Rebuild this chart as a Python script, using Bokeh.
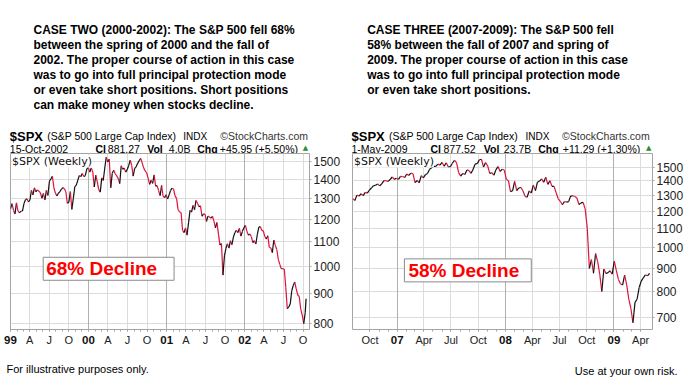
import pandas as pd
from bokeh.plotting import figure
from bokeh.models import Range1d, FixedTicker, Label, Grid, PrintfTickFormatter, DatetimeAxis
from bokeh.layouts import column, row
from bokeh.core.properties import value
from bokeh.embed import file_html
from bokeh.resources import INLINE

FONT = "Liberation Sans"
RED = "#dc143c"
BLACK = "#111111"

# ---------------- data: S&P 500 weekly closes ----------------
# Case two: weekly (Fridays) from 1999-01-01, last point 15-Oct-2002
spx_1999 = [1250, 1275, 1243, 1225, 1279, 1239, 1230, 1239, 1238, 1275, 1294, 1299, 1283,
            1293, 1343, 1319, 1356, 1335, 1345, 1338, 1330, 1302, 1327, 1294, 1342, 1316,
            1391, 1403, 1418, 1356, 1328, 1313, 1327, 1336, 1348, 1357, 1351, 1335, 1277,
            1282, 1336, 1247, 1301, 1362, 1370, 1397, 1422, 1416, 1433, 1417, 1421, 1458, 1469]
spx_2000 = [1441, 1465, 1441, 1360, 1424, 1387, 1346, 1333, 1409, 1395, 1464, 1527, 1499,
            1516, 1356, 1434, 1452, 1432, 1420, 1406, 1378, 1477, 1457, 1464, 1441, 1455,
            1478, 1509, 1480, 1419, 1462, 1471, 1491, 1506, 1520, 1494, 1465, 1449, 1436,
            1408, 1374, 1396, 1379, 1426, 1365, 1367, 1341, 1315, 1369, 1312, 1305, 1320]
spx_2001 = [1298, 1319, 1342, 1354, 1349, 1314, 1301, 1246, 1234, 1233, 1150, 1139, 1160,
            1128, 1183, 1242, 1234, 1266, 1245, 1291, 1277, 1260, 1264, 1214, 1225, 1224,
            1190, 1215, 1210, 1205, 1214, 1190, 1161, 1185, 1134, 1085, 1092, 966, 1041,
            1072, 1091, 1073, 1104, 1087, 1120, 1139, 1150, 1139, 1158, 1124, 1145, 1161]
spx_2002 = [1172, 1146, 1128, 1133, 1122, 1096, 1104, 1090, 1132, 1164, 1166, 1149, 1147,
            1122, 1111, 1125, 1076, 1073, 1054, 1107, 1084, 1067, 1027, 1007, 990, 990,
            989, 921, 848, 853, 864, 909, 928, 940, 916, 894, 889, 846, 827, 800, 835, 881]
case2_start = "1999-01-01"
case2_last_friday = "2002-10-11"
case2_end = "2002-10-15"

# Case three: weekly (Fridays) from 2006-08-04 to 2009-05-01
spx_2006 = [1279, 1267, 1302, 1296, 1311, 1299, 1320, 1315, 1336, 1350, 1366, 1368, 1377,
            1364, 1380, 1401, 1400, 1396, 1409, 1427, 1410, 1418]
spx_2007 = [1410, 1431, 1430, 1423, 1449, 1438, 1456, 1451, 1387, 1402, 1386, 1437, 1421,
            1444, 1453, 1484, 1495, 1505, 1505, 1523, 1515, 1536, 1507, 1533, 1503, 1503,
            1530, 1553, 1534, 1459, 1433, 1453, 1445, 1479, 1474, 1454, 1484, 1525, 1527,
            1557, 1561, 1501, 1535, 1509, 1453, 1458, 1440, 1481, 1504, 1468, 1484, 1478]
spx_2008 = [1411, 1401, 1325, 1331, 1396, 1332, 1350, 1353, 1331, 1294, 1288, 1330, 1316,
            1370, 1332, 1390, 1398, 1414, 1389, 1426, 1375, 1400, 1361, 1361, 1318, 1278,
            1262, 1240, 1261, 1257, 1260, 1296, 1298, 1293, 1283, 1242, 1252, 1255, 1213,
            1100, 899, 940, 877, 969, 930, 873, 800, 896, 876, 880, 888, 873]
spx_2009 = [932, 890, 850, 832, 826, 869, 827, 770, 735, 683, 757, 769, 816, 843, 857, 870,
            866, 877]
case3_start = "2006-08-04"
case3_end = "2009-05-01"

# axis ticks
left_yticks = [800, 900, 1000, 1100, 1200, 1300, 1400, 1500]
right_yticks = [700, 800, 900, 1000, 1100, 1200, 1300, 1400, 1500]
left_tick_dates = ["1999-01-01", "1999-04-01", "1999-07-01", "1999-10-01",
                   "2000-01-01", "2000-04-01", "2000-07-01", "2000-10-01",
                   "2001-01-01", "2001-04-01", "2001-07-01", "2001-10-01",
                   "2002-01-01", "2002-04-01", "2002-07-01", "2002-10-01"]
left_tick_labels = ["99", "A", "J", "O", "00", "A", "J", "O", "01", "A", "J", "O",
                    "02", "A", "J", "O"]
right_tick_dates = ["2006-10-01", "2007-01-01", "2007-04-01", "2007-07-01", "2007-10-01",
                    "2008-01-01", "2008-04-01", "2008-07-01", "2008-10-01",
                    "2009-01-01", "2009-04-01"]
right_tick_labels = ["Oct", "07", "Apr", "Jul", "Oct", "08", "Apr", "Jul", "Oct", "09", "Apr"]
left_years = ["99", "00", "01", "02"]
right_years = ["07", "08", "09"]

# texts
case2_lines = ["CASE TWO (2000-2002): The S&P 500 fell 68%",
               "between the spring of 2000 and the fall of",
               "2002. The proper course of action in this case",
               "was to go into full principal protection mode",
               "or even take short positions. Short positions",
               "can make money when stocks decline."]
case3_lines = ["CASE THREE (2007-2009): The S&P 500 fell",
               "58% between the fall of 2007 and spring of",
               "2009. The proper course of action in this case",
               "was to go into full principal protection mode",
               "or even take short positions."]


def ms(d):
    return float(pd.Timestamp(d).value // 10**6)


def txt(p, x, y, s, size="11px", style="normal", color="#000000", font=FONT, align="left"):
    p.text(x=[x], y=[y], text=[s], text_font=value(font), text_font_size=value(size),
           text_font_style=value(style), text_color=color, text_baseline="alphabetic",
           text_align=align)


def make_chart(dates, vals, x0, x1, y0, y1, yticks, tick_dates, tick_labels, years,
               width, left_b, frame_w, frame_h, bottom_b, box_text, box_x, box_y, pad):
    p = figure(width=width, height=frame_h + bottom_b, x_axis_type="datetime",
               y_axis_type="log", y_axis_location="right",
               x_range=Range1d(pd.Timestamp(x0), pd.Timestamp(x1)),
               y_range=Range1d(y0, y1), output_backend="svg", toolbar_location=None,
               min_border_left=left_b, min_border_right=width - left_b - frame_w,
               min_border_top=0, min_border_bottom=bottom_b)
    p.outline_line_color = "#a4a4a4"
    p.background_fill_color = "white"
    tick_ms = [ms(d) for d in tick_dates]
    month_ms = [ms(d) for d in pd.date_range(tick_dates[0], tick_dates[-1], freq="MS")]
    year_ms = [ms(d) for d, l in zip(tick_dates, tick_labels) if l in years]
    # grids
    p.xgrid.ticker = FixedTicker(ticks=tick_ms)
    p.xgrid.grid_line_color = "#dcdcdc"
    p.ygrid.ticker = FixedTicker(ticks=yticks)
    p.ygrid.grid_line_color = "#dcdcdc"
    p.add_layout(Grid(dimension=0, ticker=FixedTicker(ticks=year_ms),
                      grid_line_color="#b0b0b0"))
    # x axis (months)
    xa = p.xaxis[0]
    xa.ticker = FixedTicker(ticks=tick_ms, minor_ticks=month_ms)
    xa.major_label_overrides = {t: ("" if l in years else l) for t, l in zip(tick_ms, tick_labels)}
    xa.axis_line_color = None
    xa.major_tick_in = 0
    xa.major_tick_out = 2
    xa.minor_tick_in = 0
    xa.minor_tick_out = 2
    xa.major_tick_line_color = "#a4a4a4"
    xa.minor_tick_line_color = "#a4a4a4"
    xa.major_label_standoff = 2
    xa.major_label_text_font = FONT
    xa.major_label_text_font_size = "11px"
    xa.major_label_text_color = "#222222"
    # x axis (years, bold) pulled up onto the same line
    yr_axis = DatetimeAxis(ticker=FixedTicker(ticks=year_ms),
                           major_label_overrides={t: l for t, l in zip(tick_ms, tick_labels) if l in years},
                           axis_line_color=None, major_tick_line_color=None,
                           minor_tick_line_color=None, major_tick_in=0, major_tick_out=0,
                           minor_tick_in=0, minor_tick_out=0, major_label_standoff=-13,
                           major_label_text_font=FONT, major_label_text_font_size="11.5px",
                           major_label_text_font_style="bold", major_label_text_color="#111111")
    p.add_layout(yr_axis, "below")
    # y axis
    ya = p.yaxis[0]
    ya.ticker = FixedTicker(ticks=yticks)
    ya.formatter = PrintfTickFormatter(format="%d")
    ya.axis_line_color = None
    ya.major_tick_in = 0
    ya.major_tick_out = 2
    ya.minor_tick_line_color = None
    ya.major_tick_line_color = "#a4a4a4"
    ya.major_label_standoff = 2
    ya.major_label_text_font = FONT
    ya.major_label_text_font_size = "12px"
    ya.major_label_text_color = "#222222"
    # price line: black for up weeks, red for down weeks
    xs0, xs1 = dates[:-1], dates[1:]
    ys0, ys1 = vals[:-1], vals[1:]
    cols = [BLACK if b >= a else RED for a, b in zip(ys0, ys1)]
    p.segment(x0=xs0, y0=ys0, x1=xs1, y1=ys1, line_color=cols, line_width=1.2)
    # chart label
    p.add_layout(Label(x=pd.Timestamp(x0), y=y1, x_offset=1.5, y_offset=-1, text="$SPX (Weekly)",
                       text_baseline="top", text_font="DejaVu Sans", text_font_size="11px",
                       text_color="#111111", background_fill_color="white"))
    # decline box with shadow
    p.add_layout(Label(x=pd.Timestamp(box_x), y=box_y, x_offset=2, y_offset=-2, text=box_text,
                       text_baseline="middle", text_font=FONT, text_font_size="19px",
                       text_font_style="bold", text_alpha=0.0,
                       background_fill_color="#3a3a3a", padding=pad))
    p.add_layout(Label(x=pd.Timestamp(box_x), y=box_y, text=box_text,
                       text_baseline="middle", text_font=FONT, text_font_size="19px",
                       text_font_style="bold", text_color="#ff0000",
                       background_fill_color="white", border_line_color="#8a8a8a",
                       border_line_width=1, padding=pad))
    return p


left_vals = spx_1999 + spx_2000 + spx_2001 + spx_2002
left_dates = list(pd.date_range(case2_start, case2_last_friday, freq="W-FRI")) + [pd.Timestamp(case2_end)]
n = min(len(left_vals), len(left_dates))
left_vals, left_dates = left_vals[:n], left_dates[:n]

right_vals = spx_2006 + spx_2007 + spx_2008 + spx_2009
right_dates = list(pd.date_range(case3_start, case3_end, freq="W-FRI"))
n = min(len(right_vals), len(right_dates))
right_vals, right_dates = right_vals[:n], right_dates[:n]

left = make_chart(left_dates, left_vals, "1999-01-01", "2002-10-31", 782, 1549,
                  left_yticks, left_tick_dates, left_tick_labels, left_years,
                  width=345, left_b=10, frame_w=299, frame_h=176, bottom_b=20,
                  box_text="68% Decline", box_x="1999-06-03", box_y=990,
                  pad=dict(left=3, right=17, top=1, bottom=1))
right = make_chart(right_dates, right_vals, "2006-08-03", "2009-05-11", 660, 1607,
                   right_yticks, right_tick_dates, right_tick_labels, right_years,
                   width=352, left_b=7, frame_w=300, frame_h=178, bottom_b=18,
                   box_text="58% Decline", box_x="2007-01-25", box_y=890,
                   pad=dict(left=4, right=12, top=1, bottom=1))

# ---------------- header ----------------
hdr = figure(width=697, height=153, x_range=Range1d(0, 697), y_range=Range1d(153, 0),
             output_backend="svg", toolbar_location=None, min_border=0,
             x_axis_type=None, y_axis_type=None, outline_line_color=None)
for i, s in enumerate(case2_lines):
    txt(hdr, 33, 29.3 + 15 * i, s, size="12px", style="bold")
for i, s in enumerate(case3_lines):
    txt(hdr, 366.7, 29.3 + 15 * i, s, size="12px", style="bold")

for (x, date, cl, vol, chg, tri) in [(9.3, "15-Oct-2002", "881.27", "4.0B", "+45.95 (+5.50%)", 0),
                                     (351, "1-May-2009", "877.52", "23.7B", "+11.29 (+1.30%)", 1)]:
    txt(hdr, x, 136, "$SPX", size="13px", style="bold")
    txt(hdr, x + 37.4, 135.5, "(S&P 500 Large Cap Index)", size="10.5px")
    txt(hdr, x + (173.4 if tri == 0 else 174), 135.5, "INDX", size="10px")
    txt(hdr, x + 210.5, 135.5, "\u00a9StockCharts.com", size="10.5px", color="#333333")
    txt(hdr, x, 148, date, size="10.5px")
    if tri == 0:
        offs = [85.7, 98, 137.4, 159, 187.4, 210, 293]
    else:
        offs = [79, 92, 132.3, 152.3, 186.7, 211.3, 294.5]
    txt(hdr, x + offs[0], 148, "Cl", size="10.5px", style="bold")
    txt(hdr, x + offs[1], 148, cl, size="10.5px")
    txt(hdr, x + offs[2], 148, "Vol", size="10.5px", style="bold")
    txt(hdr, x + offs[3], 148, vol, size="10.5px")
    txt(hdr, x + offs[4], 148, "Chg", size="10.5px", style="bold")
    txt(hdr, x + offs[5], 148, chg, size="10.5px")
    txt(hdr, x + offs[6], 147, "\u25b2", size="7px", color="#2e8b2e", font="DejaVu Sans")

# ---------------- footer ----------------
ftr = figure(width=697, height=36, x_range=Range1d(0, 697), y_range=Range1d(385, 349),
             output_backend="svg", toolbar_location=None, min_border=0,
             x_axis_type=None, y_axis_type=None, outline_line_color=None)
txt(ftr, 6, 368.3, "For illustrative purposes only.", size="11px")
txt(ftr, 677, 370.5, "Use at your own risk.", size="11px", align="right")

layout = column(hdr, row(left, right, spacing=0), ftr, spacing=0)
open("out.html", "w").write(file_html(layout, INLINE))
